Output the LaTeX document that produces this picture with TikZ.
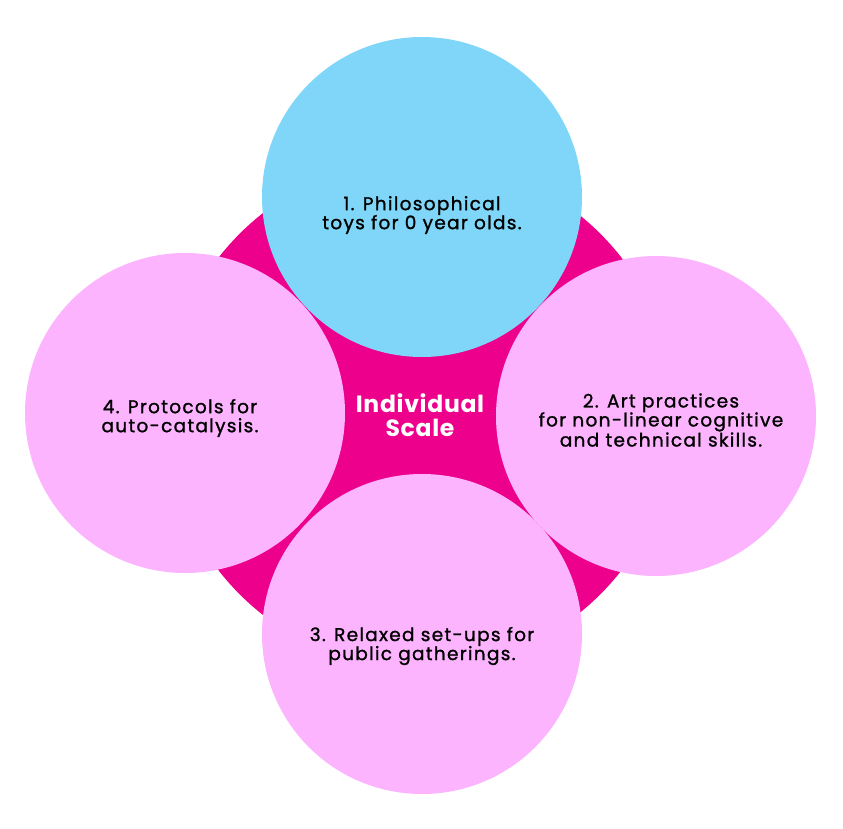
\documentclass[tikz,border=0pt]{standalone}
\usepackage{fontspec}
\setmainfont{Poppins}
\usetikzlibrary{positioning}

\definecolor{hubmagenta}{HTML}{EC008C}
\definecolor{toyblue}{HTML}{80D6F8}
\definecolor{petalpink}{HTML}{FDB4FE}

\begin{document}
\begin{tikzpicture}[
    x=1pt, y=-1pt, % work in pixel units, y pointing down
    hub/.style={circle, fill=hubmagenta, minimum size=510pt, inner sep=0pt}, % Style for the big centre disc
    petal/.style={circle, fill=petalpink, minimum size=320pt, inner sep=0pt}, % Style for the outer discs
    petaltext/.style={font=\fontsize{18.5}{19}\selectfont\addfontfeature{FakeBold=1.2,LetterSpace=7}, align=center, text=black}, % Style for disc labels
    hubtext/.style={font=\fontsize{23.5}{24}\selectfont\bfseries\addfontfeature{LetterSpace=3}, align=center, text=white} % Style for centre label
]

    % Canvas
    \useasboundingbox (0,0) rectangle (843,828);

    % Centre disc
    \node[hub] (scale) at (420,414) {};

    % Outer discs
    \node[petal] (protocols) at (185,413) {};
    \node[petal] (art) at (656,416) {};
    \node[petal] (relaxed) at (422,634) {};
    \node[petal, fill=toyblue] (toys) at (422,197) {};

    % Labels
    \node[hubtext] (scalelabel) at (420,415) {Individual\\Scale};
    \node[petaltext] (toyslabel) at (422,215) {1. Philosophical\\toys for 0 year olds.};
    \node[petaltext] (artlabel) at (661,420) {2. Art practices\\for non-linear cognitive\\and technical skills.};
    \node[petaltext] (relaxedlabel) at (422,646) {3. Relaxed set-ups for\\public gatherings.};
    \node[petaltext] (protocolslabel) at (180,418) {4. Protocols for\\auto-catalysis.};

\end{tikzpicture}
\end{document}
